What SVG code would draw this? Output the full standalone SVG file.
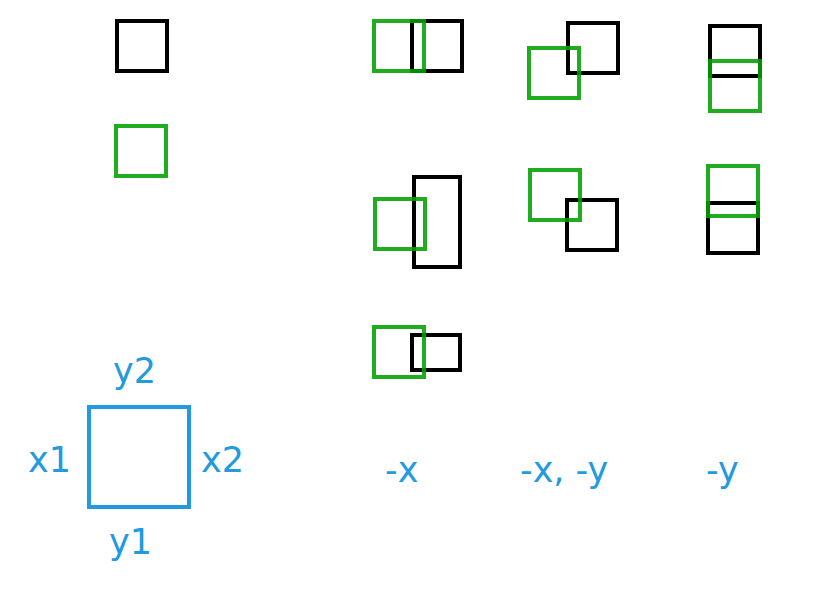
<svg xmlns="http://www.w3.org/2000/svg" width="830" height="600" viewBox="0 0 830 600">
<style>
.k{fill:none;stroke:#000;stroke-width:4}
.g{fill:none;stroke:#00a000;stroke-opacity:0.88;stroke-width:4}
.b{fill:none;stroke:#229ae0;stroke-width:4}
.t{font-family:"DejaVu Sans",sans-serif;font-size:35px;fill:#229ae0}
</style>
<rect width="830" height="600" fill="#fff"/>
<g id="legend-top">
<rect class="k" x="117" y="21" width="50" height="50"/>
<rect class="g" x="116" y="126" width="50" height="50"/>
</g>
<g id="col-x">
<rect class="k" x="412" y="21" width="50" height="50"/>
<rect class="g" x="374" y="21" width="50" height="50"/>
<rect class="k" x="414" y="177" width="46" height="90"/>
<rect class="g" x="375" y="199" width="50" height="50"/>
<rect class="k" x="412" y="335" width="48" height="35"/>
<rect class="g" x="374" y="327" width="50" height="50"/>
<text class="t" x="385" y="482">-x</text>
</g>
<g id="col-xy">
<rect class="k" x="568" y="23" width="50" height="50"/>
<rect class="g" x="529" y="48" width="50" height="50"/>
<rect class="k" x="567" y="200" width="50" height="50"/>
<rect class="g" x="530" y="170" width="50" height="50"/>
<text class="t" x="520" y="482">-x, -y</text>
</g>
<g id="col-y">
<rect class="k" x="710" y="26" width="50" height="50"/>
<rect class="g" x="710" y="61" width="50" height="50"/>
<rect class="k" x="708" y="203" width="50" height="50"/>
<rect class="g" x="708" y="166" width="50" height="50"/>
<text class="t" x="706" y="482">-y</text>
</g>
<g id="key">
<rect class="b" x="89" y="407" width="100" height="100"/>
<text class="t" x="113" y="383">y2</text>
<text class="t" x="28" y="472">x1</text>
<text class="t" x="201" y="472">x2</text>
<text class="t" x="109" y="554">y1</text>
</g>
<g id="connectors"></g>
</svg>
